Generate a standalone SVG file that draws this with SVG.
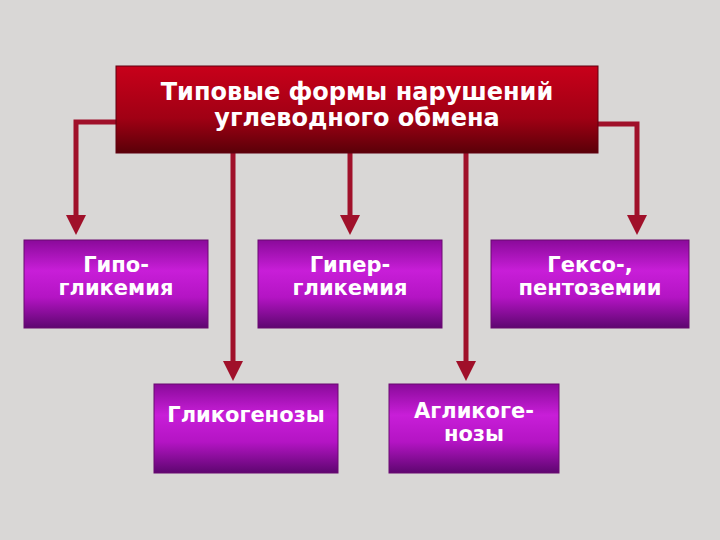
<svg xmlns="http://www.w3.org/2000/svg" width="720" height="540" viewBox="0 0 720 540">
<defs>
<linearGradient id="red" x1="0" y1="0" x2="0" y2="1"><stop offset="0" stop-color="#c8001a"/><stop offset="0.6" stop-color="#a00014"/><stop offset="1" stop-color="#5a0008"/></linearGradient>
<linearGradient id="pur" x1="0" y1="0" x2="0" y2="1"><stop offset="0" stop-color="#8a0a9a"/><stop offset="0.35" stop-color="#c81ed8"/><stop offset="0.65" stop-color="#b414c4"/><stop offset="1" stop-color="#5e0670"/></linearGradient>
<marker id="ah" markerWidth="4" markerHeight="4" refX="2.2" refY="2" orient="auto" markerUnits="strokeWidth"><path d="M0,0 L4,2 L0,4 Z" fill="#a0102a"/></marker>
<style>
.c{fill:none;stroke:#a0102a;stroke-width:5}
.b{fill:url(#pur);stroke:#6a0a70;stroke-width:1}
.t{font-family:"DejaVu Sans",sans-serif;font-weight:bold;font-size:21px;fill:#fff;text-anchor:middle}
</style>
</defs>
<rect width="720" height="540" fill="#d9d7d6"/>
<g id="connectors">
<path class="c" d="M116,122 H76 V226" marker-end="url(#ah)"/>
<path class="c" d="M598,124 H637 V226" marker-end="url(#ah)"/>
<path class="c" d="M350,153 V226" marker-end="url(#ah)"/>
<path class="c" d="M233,153 V372" marker-end="url(#ah)"/>
<path class="c" d="M466,153 V372" marker-end="url(#ah)"/>
</g>
<g id="header"><rect x="116" y="66" width="482" height="87" fill="url(#red)" stroke="#600010"/>
<text class="t" x="357" y="100" font-size="24" style="font-size:24px">Типовые формы нарушений</text>
<text class="t" x="357" y="126" style="font-size:24px">углеводного обмена</text></g>
<g id="hypo"><rect class="b" x="24" y="240" width="184" height="88"/><text class="t" x="116" y="272">Гипо-</text><text class="t" x="116" y="295">гликемия</text></g>
<g id="hyper"><rect class="b" x="258" y="240" width="184" height="88"/><text class="t" x="350" y="272">Гипер-</text><text class="t" x="350" y="295">гликемия</text></g>
<g id="hexo"><rect class="b" x="491" y="240" width="198" height="88"/><text class="t" x="590" y="272">Гексо-,</text><text class="t" x="590" y="295">пентоземии</text></g>
<g id="glyco"><rect class="b" x="154" y="384" width="184" height="89"/><text class="t" x="246" y="422">Гликогенозы</text></g>
<g id="aglyco"><rect class="b" x="389" y="384" width="170" height="89"/><text class="t" x="474" y="418">Агликоге-</text><text class="t" x="474" y="441">нозы</text></g>
</svg>
